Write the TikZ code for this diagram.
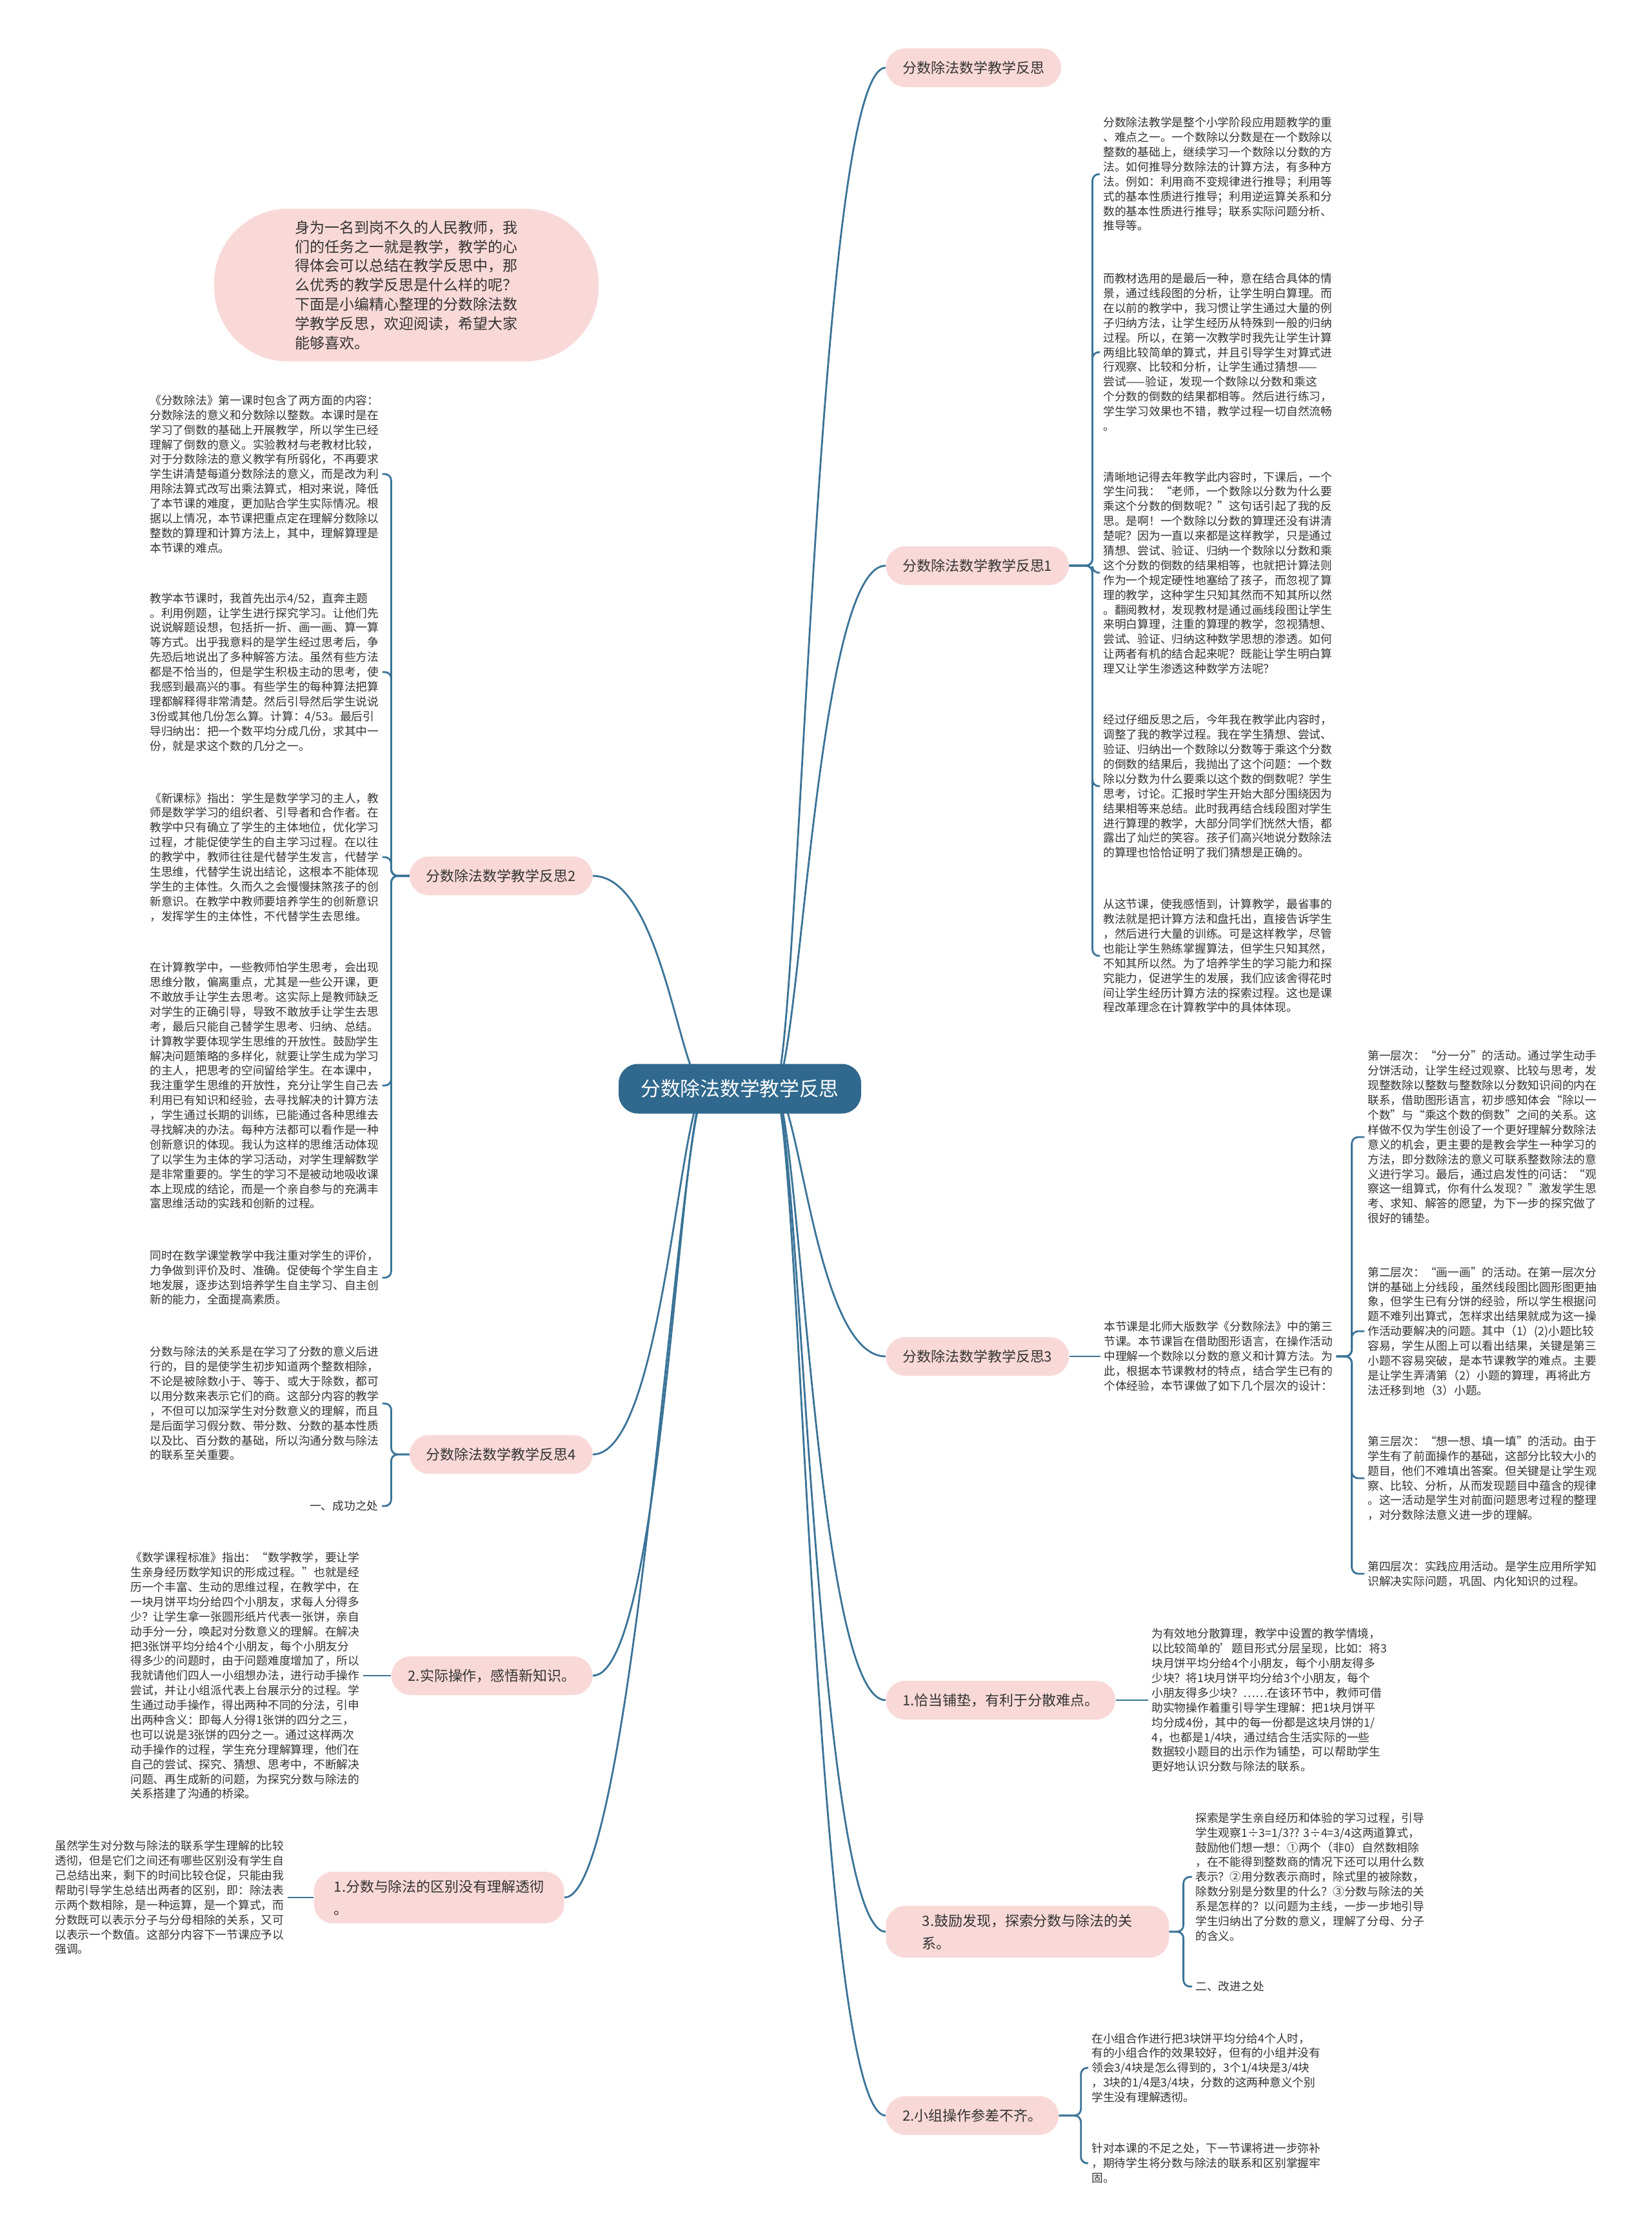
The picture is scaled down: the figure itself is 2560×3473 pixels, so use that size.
\documentclass[tikz,border=0pt]{standalone}
\usepackage{fontspec}
\setmainfont{Noto Sans CJK SC}
\usetikzlibrary{backgrounds,calc}
\definecolor{hubblue}{HTML}{30698D}
\definecolor{linkteal}{HTML}{3A7397}
\definecolor{petal}{HTML}{F9D9D8}
\definecolor{ink}{HTML}{333333}

\begin{document}
\begin{tikzpicture}[
  x=0.02cm,y=-0.02cm,
  font=\fontsize{10.1}{13.03}\selectfont,
  hub/.style={fill=hubblue,text=white,rounded corners=0.6cm,minimum width=7.52cm,minimum height=1.54cm,font=\fontsize{17.5}{21}\selectfont},
  twig/.style={fill=petal,text=ink,rounded corners=0.6cm,minimum height=1.2cm,inner xsep=0.52cm,inner ysep=0.25cm,align=left,font=\fontsize{12.5}{20}\selectfont},
  para/.style={text=ink,align=left,inner xsep=0.1cm,inner ysep=0pt},
  wire/.style={draw=linkteal,line width=1.6pt},
  fork/.style={wire,rounded corners=0.2cm}
]
\path[use as bounding box] (0,0) rectangle (2560,3473);

% centre and main branches
\node[hub] (hub) at (1147,1688) {分数除法数学教学反思};
\node[twig,anchor=west] (R0) at (1373,105) {分数除法数学教学反思};
\node[twig,anchor=west] (R1) at (1373,877) {分数除法数学教学反思1};
\node[twig,anchor=west] (R3) at (1373,2103) {分数除法数学教学反思3};
\node[twig,anchor=west] (R4) at (1373,2636) {1.恰当铺垫，有利于分散难点。};
\node[twig,anchor=west,minimum width=8.78cm] (R5) at (1373,2995) {3.鼓励发现，探索分数与除法的关\\系。};
\node[twig,anchor=west] (R6) at (1373,3280) {2.小组操作参差不齐。};
\node[twig,anchor=east] (L2) at (919,1358) {分数除法数学教学反思2};
\node[twig,anchor=east] (L4) at (919,2255) {分数除法数学教学反思4};
\node[twig,anchor=east] (L5) at (919,2598) {2.实际操作，感悟新知识。};
\node[twig,anchor=east,minimum width=7.76cm] (L6) at (875,2942) {1.分数与除法的区别没有理解透彻\\。};

% intro bubble
\node[fill=petal,text=ink,rounded corners=2.3cm,minimum width=11.92cm,minimum height=4.74cm,align=left,font=\fontsize{13.07}{16.95}\selectfont] (intro) at (630,442) {身为一名到岗不久的人民教师，我\\
们的任务之一就是教学，教学的心\\
得体会可以总结在教学反思中，那\\
么优秀的教学反思是什么样的呢？\\
下面是小编精心整理的分数除法数\\
学教学反思，欢迎阅读，希望大家\\
能够喜欢。};

% right: reflection 1
\node[para,anchor=west] (a1) at (1705,270) {分数除法教学是整个小学阶段应用题教学的重\\
、难点之一。一个数除以分数是在一个数除以\\
整数的基础上，继续学习一个数除以分数的方\\
法。如何推导分数除法的计算方法，有多种方\\
法。例如：利用商不变规律进行推导；利用等\\
式的基本性质进行推导；利用逆运算关系和分\\
数的基本性质进行推导；联系实际问题分析、\\
推导等。};
\node[para,anchor=west] (a2) at (1705,546) {而教材选用的是最后一种，意在结合具体的情\\
景，通过线段图的分析，让学生明白算理。而\\
在以前的教学中，我习惯让学生通过大量的例\\
子归纳方法，让学生经历从特殊到一般的归纳\\
过程。所以，在第一次教学时我先让学生计算\\
两组比较简单的算式，并且引导学生对算式进\\
行观察、比较和分析，让学生通过猜想——\\
尝试——验证，发现一个数除以分数和乘这\\
个分数的倒数的结果都相等。然后进行练习，\\
学生学习效果也不错，教学过程一切自然流畅\\
。};
\node[para,anchor=west] (a3) at (1705,888) {清晰地记得去年教学此内容时，下课后，一个\\
学生问我：“老师，一个数除以分数为什么要\\
乘这个分数的倒数呢？”这句话引起了我的反\\
思。是啊！一个数除以分数的算理还没有讲清\\
楚呢？因为一直以来都是这样教学，只是通过\\
猜想、尝试、验证、归纳一个数除以分数和乘\\
这个分数的倒数的结果相等，也就把计算法则\\
作为一个规定硬性地塞给了孩子，而忽视了算\\
理的教学，这种学生只知其然而不知其所以然\\
。翻阅教材，发现教材是通过画线段图让学生\\
来明白算理，注重的算理的教学，忽视猜想、\\
尝试、验证、归纳这种数学思想的渗透。如何\\
让两者有机的结合起来呢？既能让学生明白算\\
理又让学生渗透这种数学方法呢？};
\node[para,anchor=west] (a4) at (1705,1219) {经过仔细反思之后，今年我在教学此内容时，\\
调整了我的教学过程。我在学生猜想、尝试、\\
验证、归纳出一个数除以分数等于乘这个分数\\
的倒数的结果后，我抛出了这个问题：一个数\\
除以分数为什么要乘以这个数的倒数呢？学生\\
思考，讨论。汇报时学生开始大部分围绕因为\\
结果相等来总结。此时我再结合线段图对学生\\
进行算理的教学，大部分同学们恍然大悟，都\\
露出了灿烂的笑容。孩子们高兴地说分数除法\\
的算理也恰恰证明了我们猜想是正确的。};
\node[para,anchor=west] (a5) at (1705,1482) {从这节课，使我感悟到，计算教学，最省事的\\
教法就是把计算方法和盘托出，直接告诉学生\\
，然后进行大量的训练。可是这样教学，尽管\\
也能让学生熟练掌握算法，但学生只知其然，\\
不知其所以然。为了培养学生的学习能力和探\\
究能力，促进学生的发展，我们应该舍得花时\\
间让学生经历计算方法的探索过程。这也是课\\
程改革理念在计算教学中的具体体现。};

% right: reflection 3
\node[para,anchor=west] (b0) at (1706,2103) {本节课是北师大版数学《分数除法》中的第三\\
节课。本节课旨在借助图形语言，在操作活动\\
中理解一个数除以分数的意义和计算方法。为\\
此，根据本节课教材的特点，结合学生已有的\\
个体经验，本节课做了如下几个层次的设计：};
\node[para,anchor=west] (c1) at (2115,1763) {第一层次：“分一分”的活动。通过学生动手\\
分饼活动，让学生经过观察、比较与思考，发\\
现整数除以整数与整数除以分数知识间的内在\\
联系，借助图形语言，初步感知体会“除以一\\
个数”与“乘这个数的倒数”之间的关系。这\\
样做不仅为学生创设了一个更好理解分数除法\\
意义的机会，更主要的是教会学生一种学习的\\
方法，即分数除法的意义可联系整数除法的意\\
义进行学习。最后，通过启发性的问话：“观\\
察这一组算式，你有什么发现？”激发学生思\\
考、求知、解答的愿望，为下一步的探究做了\\
很好的铺垫。};
\node[para,anchor=west] (c2) at (2115,2064) {第二层次：“画一画”的活动。在第一层次分\\
饼的基础上分线段，虽然线段图比圆形图更抽\\
象，但学生已有分饼的经验，所以学生根据问\\
题不难列出算式，怎样求出结果就成为这一操\\
作活动要解决的问题。其中（1）(2)小题比较\\
容易，学生从图上可以看出结果，关键是第三\\
小题不容易突破，是本节课教学的难点。主要\\
是让学生弄清第（2）小题的算理，再将此方\\
法迁移到地（3）小题。};
\node[para,anchor=west] (c3) at (2115,2292) {第三层次：“想一想、填一填”的活动。由于\\
学生有了前面操作的基础，这部分比较大小的\\
题目，他们不难填出答案。但关键是让学生观\\
察、比较、分析，从而发现题目中蕴含的规律\\
。这一活动是学生对前面问题思考过程的整理\\
，对分数除法意义进一步的理解。};
\node[para,anchor=west] (c4) at (2115,2440) {第四层次：实践应用活动。是学生应用所学知\\
识解决实际问题，巩固、内化知识的过程。};

% right: lower branches
\node[para,anchor=west] (d1) at (1780,2636) {为有效地分散算理，教学中设置的教学情境，\\
以比较简单的'题目形式分层呈现，比如：将3\\
块月饼平均分给4个小朋友，每个小朋友得多\\
少块？将1块月饼平均分给3个小朋友，每个\\
小朋友得多少块？……在该环节中，教师可借\\
助实物操作着重引导学生理解：把1块月饼平\\
均分成4份，其中的每一份都是这块月饼的1/\\
4，也都是1/4块，通过结合生活实际的一些\\
数据较小题目的出示作为铺垫，可以帮助学生\\
更好地认识分数与除法的联系。};
\node[para,anchor=west] (e1) at (1848,2910) {探索是学生亲自经历和体验的学习过程，引导\\
学生观察1÷3=1/3?? 3÷4=3/4这两道算式，\\
鼓励他们想一想：①两个（非0）自然数相除\\
，在不能得到整数商的情况下还可以用什么数\\
表示？②用分数表示商时，除式里的被除数，\\
除数分别是分数里的什么？③分数与除法的关\\
系是怎样的？以问题为主线，一步一步地引导\\
学生归纳出了分数的意义，理解了分母、分子\\
的含义。};
\node[para,anchor=west] (e2) at (1848,3080) {二、改进之处};
\node[para,anchor=west] (f1) at (1687,3206) {在小组合作进行把3块饼平均分给4个人时，\\
有的小组合作的效果较好，但有的小组并没有\\
领会3/4块是怎么得到的，3个1/4块是3/4块\\
，3块的1/4是3/4块，分数的这两种意义个别\\
学生没有理解透彻。};
\node[para,anchor=west] (f2) at (1687,3354) {针对本课的不足之处，下一节课将进一步弥补\\
，期待学生将分数与除法的联系和区别掌握牢\\
固。};

% left: reflection 2
\node[para,anchor=west] (g1) at (227,735) {《分数除法》第一课时包含了两方面的内容：\\
分数除法的意义和分数除以整数。本课时是在\\
学习了倒数的基础上开展教学，所以学生已经\\
理解了倒数的意义。实验教材与老教材比较，\\
对于分数除法的意义教学有所弱化，不再要求\\
学生讲清楚每道分数除法的意义，而是改为利\\
用除法算式改写出乘法算式，相对来说，降低\\
了本节课的难度，更加贴合学生实际情况。根\\
据以上情况，本节课把重点定在理解分数除以\\
整数的算理和计算方法上，其中，理解算理是\\
本节课的难点。};
\node[para,anchor=west] (g2) at (227,1042) {教学本节课时，我首先出示4/52，直奔主题\\
。利用例题，让学生进行探究学习。让他们先\\
说说解题设想，包括折一折、画一画、算一算\\
等方式。出乎我意料的是学生经过思考后，争\\
先恐后地说出了多种解答方法。虽然有些方法\\
都是不恰当的，但是学生积极主动的思考，使\\
我感到最高兴的事。有些学生的每种算法把算\\
理都解释得非常清楚。然后引导然后学生说说\\
3份或其他几份怎么算。计算：4/53。最后引\\
导归纳出：把一个数平均分成几份，求其中一\\
份，就是求这个数的几分之一。};
\node[para,anchor=west] (g3) at (227,1329) {《新课标》指出：学生是数学学习的主人，教\\
师是数学学习的组织者、引导者和合作者。在\\
教学中只有确立了学生的主体地位，优化学习\\
过程，才能促使学生的自主学习过程。在以往\\
的教学中，教师往往是代替学生发言，代替学\\
生思维，代替学生说出结论，这根本不能体现\\
学生的主体性。久而久之会慢慢抹煞孩子的创\\
新意识。在教学中教师要培养学生的创新意识\\
，发挥学生的主体性，不代替学生去思维。};
\node[para,anchor=west] (g4) at (227,1683) {在计算教学中，一些教师怕学生思考，会出现\\
思维分散，偏离重点，尤其是一些公开课，更\\
不敢放手让学生去思考。这实际上是教师缺乏\\
对学生的正确引导，导致不敢放手让学生去思\\
考，最后只能自己替学生思考、归纳、总结。\\
计算教学要体现学生思维的开放性。鼓励学生\\
解决问题策略的多样化，就要让学生成为学习\\
的主人，把思考的空间留给学生。在本课中，\\
我注重学生思维的开放性，充分让学生自己去\\
利用已有知识和经验，去寻找解决的计算方法\\
，学生通过长期的训练，已能通过各种思维去\\
寻找解决的办法。每种方法都可以看作是一种\\
创新意识的体现。我认为这样的思维活动体现\\
了以学生为主体的学习活动，对学生理解数学\\
是非常重要的。学生的学习不是被动地吸收课\\
本上现成的结论，而是一个亲自参与的充满丰\\
富思维活动的实践和创新的过程。};
\node[para,anchor=west] (g5) at (227,1981) {同时在数学课堂教学中我注重对学生的评价，\\
力争做到评价及时、准确。促使每个学生自主\\
地发展，逐步达到培养学生自主学习、自主创\\
新的能力，全面提高素质。};

% left: reflection 4 and lower branches
\node[para,anchor=west] (h1) at (227,2176) {分数与除法的关系是在学习了分数的意义后进\\
行的，目的是使学生初步知道两个整数相除，\\
不论是被除数小于、等于、或大于除数，都可\\
以用分数来表示它们的商。这部分内容的教学\\
，不但可以加深学生对分数意义的理解，而且\\
是后面学习假分数、带分数、分数的基本性质\\
以及比、百分数的基础，所以沟通分数与除法\\
的联系至关重要。};
\node[para,anchor=east] (h2) at (592,2335) {一、成功之处};
\node[para,anchor=west] (k1) at (197,2598) {《数学课程标准》指出：“数学教学，要让学\\
生亲身经历数学知识的形成过程。”也就是经\\
历一个丰富、生动的思维过程，在教学中，在\\
一块月饼平均分给四个小朋友，求每人分得多\\
少？让学生拿一张圆形纸片代表一张饼，亲自\\
动手分一分，唤起对分数意义的理解。在解决\\
把3张饼平均分给4个小朋友，每个小朋友分\\
得多少的问题时，由于问题难度增加了，所以\\
我就请他们四人一小组想办法，进行动手操作\\
尝试，并让小组派代表上台展示分的过程。学\\
生通过动手操作，得出两种不同的分法，引申\\
出两种含义：即每人分得1张饼的四分之三，\\
也可以说是3张饼的四分之一。通过这样两次\\
动手操作的过程，学生充分理解算理，他们在\\
自己的尝试、探究、猜想、思考中，不断解决\\
问题、再生成新的问题，为探究分数与除法的\\
关系搭建了沟通的桥梁。};
\node[para,anchor=west] (m1) at (80,2942) {虽然学生对分数与除法的联系学生理解的比较\\
透彻，但是它们之间还有哪些区别没有学生自\\
己总结出来，剩下的时间比较仓促，只能由我\\
帮助引导学生总结出两者的区别，即：除法表\\
示两个数相除，是一种运算，是一个算式，而\\
分数既可以表示分子与分母相除的关系，又可\\
以表示一个数值。这部分内容下一节课应予以\\
强调。};

% connectors
\foreach \c in {a1,a2,a3,a4,a5} \draw[fork] (R1.east) -- ++(36,0) |- (\c.west);
\draw[wire] (R3.east) -- (b0.west);
\foreach \c in {c1,c2,c3,c4} \draw[fork] (b0.east) -- ++(24,0) |- (\c.west);
\draw[wire] (R4.east) -- (d1.west);
\foreach \c in {e1,e2} \draw[fork] (R5.east) -- ++(22,0) |- (\c.west);
\foreach \c in {f1,f2} \draw[fork] (R6.east) -- ++(34,0) |- (\c.west);
\foreach \c in {g1,g2,g3,g4,g5} \draw[fork] (L2.west) -- ++(-28,0) |- (\c.east);
\foreach \c in {h1,h2} \draw[fork] (L4.west) -- ++(-28,0) |- (\c.east);
\draw[wire] (L5.west) -- (k1.east);
\draw[wire] (L6.west) -- (m1.east);

\begin{scope}[on background layer]
\fill[white] (0,0) rectangle (2560,3473);
\coordinate (hubR) at ($(hub.center)+(53,0)$);
\coordinate (hubL) at ($(hub.center)+(-53,0)$);
\foreach \t in {R0,R1,R3,R4,R5,R6}
  \draw[wire] (hubR) .. controls +(40,0) and +(-110,0) .. (\t.west);
\foreach \t in {L2,L4,L5,L6}
  \draw[wire] (hubL) .. controls +(-40,0) and +(110,0) .. (\t.east);
\end{scope}
\end{tikzpicture}
\end{document}
